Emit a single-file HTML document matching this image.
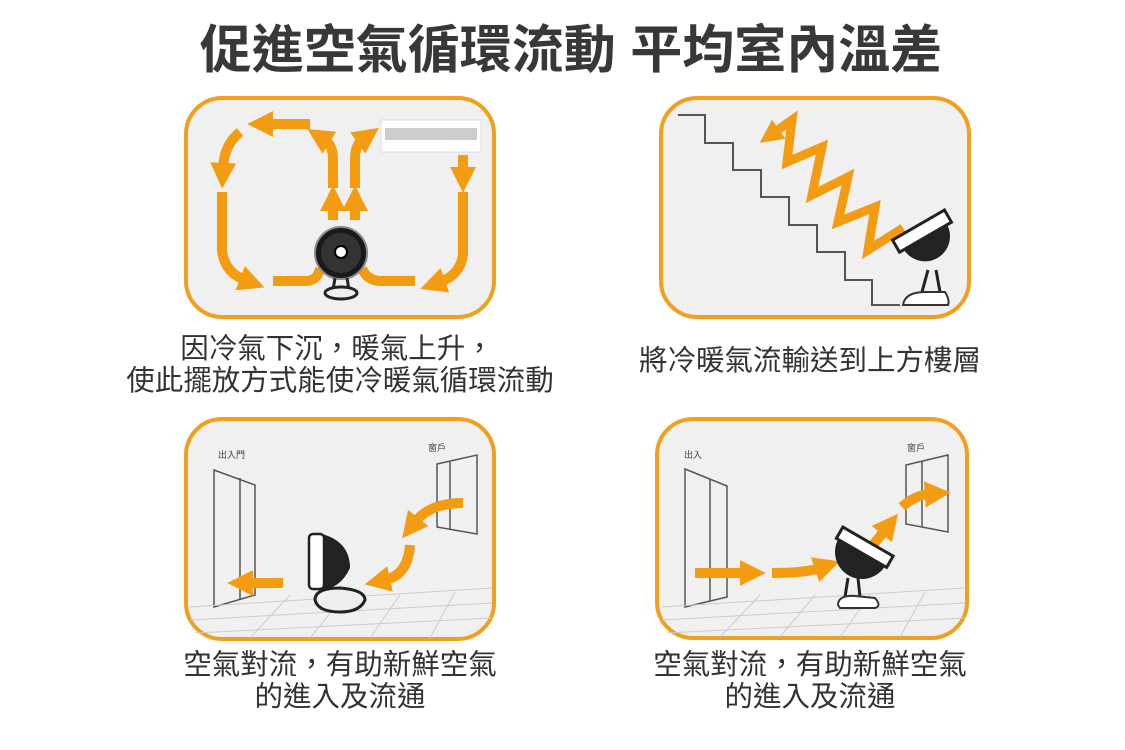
<!DOCTYPE html>
<html><head><meta charset="utf-8"><style>
html,body{margin:0;padding:0;background:#fff;}
svg{display:block;}
text{font-family:"Liberation Sans","Noto Sans CJK TC",sans-serif;}
</style></head><body>
<svg width="1125" height="750" viewBox="0 0 1125 750" xmlns="http://www.w3.org/2000/svg">
<defs>
<marker id="ah" viewBox="0 0 10 10" refX="2" refY="5" markerWidth="2.6" markerHeight="2.6" orient="auto" markerUnits="strokeWidth">
<path d="M0,0 L10,5 L0,10 z" fill="#f39c12"/>
</marker>
</defs>
<text x="571" y="68" font-size="52" font-weight="bold" fill="#383838" text-anchor="middle">促進空氣循環流動 平均室內溫差</text>

<!-- panels -->
<g fill="#f0f0f0" stroke="#f0a020" stroke-width="4">
<rect x="186" y="98" width="308" height="219" rx="36"/>
<rect x="661" y="98" width="308" height="219" rx="36"/>
<rect x="186" y="419" width="308" height="220" rx="36"/>
<rect x="657" y="419" width="310" height="219" rx="36"/>
</g>

<!-- TL -->
<g fill="none" stroke="#f39c12" stroke-width="10">
<path d="M310,124 L268,124" marker-end="url(#ah)"/>
<path d="M240,132 Q224,145 223,168" marker-end="url(#ah)"/>
<path d="M222,192 L222,250 Q224,272 245,280" marker-end="url(#ah)"/>
<path d="M273,281 L305,281 Q318,281 320,268"/>
<path d="M333,220 L333,206" marker-end="url(#ah)"/>
<path d="M355,220 L355,206" marker-end="url(#ah)"/>
<path d="M333,188 L333,160 Q333,145 325,140" marker-end="url(#ah)"/>
<path d="M355,188 L355,160 Q355,145 362,140" marker-end="url(#ah)"/>
<path d="M463,155 L463,172" marker-end="url(#ah)"/>
<path d="M463,192 L463,255 Q460,275 440,282" marker-end="url(#ah)"/>
<path d="M415,281 L380,281 Q366,280 362,268"/>
</g>
<rect x="381" y="120" width="100" height="32" fill="#fff" stroke="#ddd"/>
<rect x="385" y="128" width="92" height="12" fill="#ccc"/>
<circle cx="341" cy="253" r="26" fill="#1a1a1a" stroke="#888" stroke-width="2"/>
<circle cx="341" cy="253" r="20" fill="#333"/>
<circle cx="341" cy="252" r="6" fill="#fff" stroke="#000" stroke-width="2"/>
<path d="M335,278 L333,290 M347,278 L349,290" stroke="#222" stroke-width="3"/>
<ellipse cx="341" cy="293" rx="16" ry="6" fill="#eee" stroke="#222" stroke-width="3"/>

<!-- TR stairs -->
<polyline fill="none" stroke="#555" stroke-width="2" points="678,115 705,115 705,143 733,143 733,170 761,170 761,197 789,197 789,225 817,225 817,252 845,252 845,280 872,280 872,305 900,305"/>
<polyline fill="none" stroke="#f39c12" stroke-width="9" stroke-linejoin="miter" points="903,228 868,250 875,207 838,222 848,177 812,195 822,147 787,162 792,120 775,132" marker-end="url(#ah)"/>
<g transform="rotate(-30 930 245)">
<path d="M905,230 L955,230 A25,25 0 0 1 905,230 Z" fill="#222" transform="translate(0,5)"/>
<rect x="900" y="222" width="60" height="14" fill="#fff" stroke="#222" stroke-width="3"/>
</g>
<path d="M928,270 L922,292 M936,270 L940,292" stroke="#222" stroke-width="3"/>
<path d="M903,305 Q905,292 925,292 L945,292 Q950,300 948,305 Z" fill="#fff" stroke="#333" stroke-width="2"/>

<!-- BL -->
<g fill="none" stroke="#555" stroke-width="1.5">
<polygon points="214,470 255,485 255,595 214,607"/>
<line x1="240" y1="478" x2="240" y2="599"/>
<polygon points="437,464 477,455 477,534 437,527"/>
<line x1="450" y1="462" x2="450" y2="530"/>
</g>
<g stroke="#ccc" stroke-width="1">
<line x1="190" y1="607" x2="492" y2="588"/><line x1="190" y1="620" x2="492" y2="603"/><line x1="195" y1="633" x2="492" y2="618"/>
<line x1="250" y1="638" x2="290" y2="595"/><line x1="310" y1="638" x2="345" y2="595"/><line x1="370" y1="638" x2="400" y2="595"/><line x1="430" y1="638" x2="455" y2="592"/>
</g>
<g fill="none" stroke="#f39c12" stroke-width="10">
<path d="M463,503 Q430,503 415,522" marker-end="url(#ah)"/>
<path d="M410,545 Q408,575 385,580" marker-end="url(#ah)"/>
<path d="M283,583 L248,583" marker-end="url(#ah)"/>
</g>
<path d="M318,533 Q350,540 350,568 Q340,590 318,590 Z" fill="#222"/>
<rect x="309" y="534" width="15" height="55" rx="4" fill="#fff" stroke="#222" stroke-width="2.5"/>
<path d="M315,600 Q315,588 340,588 Q365,590 365,600 Q360,612 340,612 Q318,612 315,600 Z" fill="#eee" stroke="#222" stroke-width="3"/>

<!-- BR -->
<g fill="none" stroke="#555" stroke-width="1.5">
<polygon points="685,469 727,486 727,597 685,607"/>
<line x1="710" y1="479" x2="710" y2="601"/>
<polygon points="906,465 948,455 948,532 906,524"/>
<line x1="922" y1="462" x2="922" y2="527"/>
</g>
<g stroke="#ccc" stroke-width="1">
<line x1="662" y1="607" x2="965" y2="588"/><line x1="662" y1="620" x2="965" y2="603"/><line x1="667" y1="633" x2="965" y2="618"/>
<line x1="720" y1="637" x2="760" y2="595"/><line x1="780" y1="637" x2="815" y2="595"/><line x1="840" y1="637" x2="870" y2="595"/><line x1="900" y1="637" x2="925" y2="592"/>
</g>
<g fill="none" stroke="#f39c12" stroke-width="10">
<path d="M695,573 L745,573" marker-end="url(#ah)"/>
<path d="M772,573 Q805,573 820,568" marker-end="url(#ah)"/>
<path d="M873,545 L885,530" marker-end="url(#ah)"/>
<path d="M902,507 Q915,495 930,494" marker-end="url(#ah)"/>
</g>
<g transform="rotate(30 862 552)">
<path d="M835,552 L889,552 A27,27 0 0 1 835,552 Z" fill="#222"/>
<rect x="833" y="540" width="58" height="13" fill="#fff" stroke="#222" stroke-width="3"/>
</g>
<path d="M848,578 L845,597 M858,578 L860,597" stroke="#222" stroke-width="3"/>
<path d="M838,605 Q838,595 855,596 L875,598 Q882,606 875,608 L840,608 Z" fill="#fff" stroke="#333" stroke-width="2"/>

<!-- small labels -->
<g font-size="9" fill="#444">
<text x="218" y="458">出入門</text><text x="428" y="451">窗戶</text>
<text x="684" y="458">出入</text><text x="907" y="451">窗戶</text>
</g>

<!-- captions -->
<g font-size="28.5" fill="#333" text-anchor="middle">
<text x="337" y="358">因冷氣下沉，暖氣上升，</text>
<text x="340" y="390">使此擺放方式能使冷暖氣循環流動</text>
<text x="810" y="370">將冷暖氣流輸送到上方樓層</text>
<text x="340" y="674">空氣對流，有助新鮮空氣</text>
<text x="340" y="706">的進入及流通</text>
<text x="810" y="674">空氣對流，有助新鮮空氣</text>
<text x="810" y="706">的進入及流通</text>
</g>
</svg>
</body></html>
